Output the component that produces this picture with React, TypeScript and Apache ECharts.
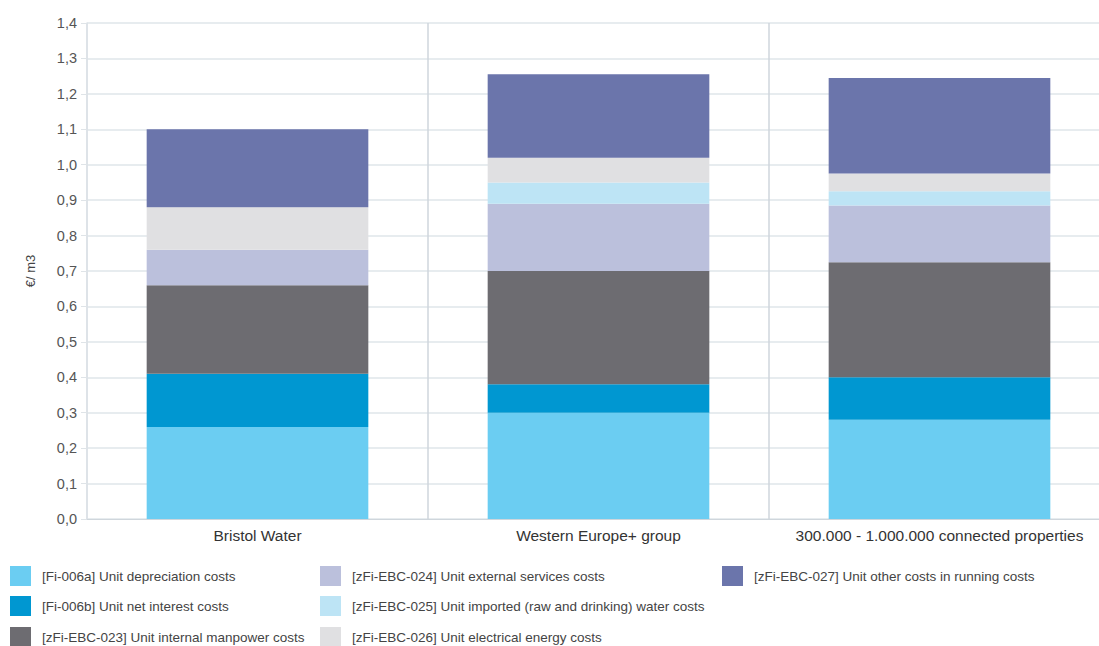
import React, { useEffect, useRef } from "react";
import * as echarts from "echarts";

const categories = ["Bristol Water", "Western Europe+ group", "300.000 - 1.000.000 connected properties"];

const seriesNames = [
  "[Fi-006a] Unit depreciation costs",
  "[Fi-006b] Unit net interest costs",
  "[zFi-EBC-023] Unit internal manpower costs",
  "[zFi-EBC-024] Unit external services costs",
  "[zFi-EBC-025] Unit imported (raw and drinking) water costs",
  "[zFi-EBC-026] Unit electrical energy costs",
  "[zFi-EBC-027] Unit other costs in running costs",
];

const depreciation = [0.26, 0.3, 0.28];
const netInterest = [0.15, 0.08, 0.12];
const manpower = [0.25, 0.32, 0.325];
const externalServices = [0.1, 0.19, 0.16];
const importedWater = [0, 0.06, 0.04];
const electricalEnergy = [0.12, 0.07, 0.05];
const otherCosts = [0.22, 0.235, 0.27];

const colors = ["#6bcdf2", "#0097d1", "#6d6c71", "#bbc0dc", "#bde4f5", "#e0e0e2", "#6b75ab"];

const yMin = 0;
const yMax = 1.4;
const yStep = 0.1;

export default function App() {
  const ref = useRef<HTMLDivElement>(null);
  useEffect(() => {
    document.body.style.margin = "0";
    document.body.style.overflow = "hidden";
    const chart = echarts.init(ref.current!, null, { renderer: "svg" });
    const values = [depreciation, netInterest, manpower, externalServices, importedWater, electricalEnergy, otherCosts];
    const font = "'Liberation Sans', Arial, sans-serif";
    const legendLeft = [10, 10, 10, 320, 320, 320, 722];
    const legendTop = [566, 596, 627, 566, 596, 627, 566];
    chart.setOption({
      animation: false,
      color: colors,
      textStyle: { fontFamily: font },
      grid: { left: 87, right: 0, top: 23, bottom: 127, containLabel: false },
      legend: seriesNames.map((name, i) => ({
        orient: "horizontal",
        left: legendLeft[i],
        top: legendTop[i],
        padding: 0,
        itemWidth: 21,
        itemHeight: 20,
        itemGap: 10,
        icon: "rect",
        data: [name],
        textStyle: { fontSize: 13.5, color: "#444", fontFamily: font, padding: [0, 0, 0, 6] },
        selectedMode: false,
      })),
      xAxis: {
        type: "category",
        data: categories,
        axisLine: { show: true, lineStyle: { color: "#cfd6dc" } },
        axisTick: { show: false },
        splitLine: { show: true, interval: 0, lineStyle: { color: "#cfd6dc", width: 1.5 } },
        axisLabel: { interval: 0, fontSize: 15.5, color: "#333", margin: 8, fontFamily: font },
      },
      yAxis: {
        type: "value",
        min: yMin,
        max: yMax,
        interval: yStep,
        name: "€/ m3",
        nameLocation: "middle",
        nameGap: 50,
        nameTextStyle: { fontSize: 13, color: "#444", fontFamily: font },
        axisLine: { show: true, lineStyle: { color: "#dfe4e8", width: 1.5 } },
        axisTick: { show: true, length: 6, lineStyle: { color: "#dfe4e8" } },
        splitLine: { show: true, lineStyle: { color: "#dfe6ea", width: 1.5 } },
        axisLabel: {
          fontSize: 14.5,
          color: "#555",
          margin: 10,
          fontFamily: font,
          formatter: (v: number) => v.toFixed(1).replace(".", ","),
        },
      },
      series: seriesNames.map((name, i) => ({
        name,
        type: "bar",
        stack: "total",
        barWidth: "65%",
        data: values[i],
        itemStyle: { color: colors[i] },
      })),
    });
    return () => chart.dispose();
  }, []);
  return <div ref={ref} style={{ width: 1110, height: 646 }} />;
}
